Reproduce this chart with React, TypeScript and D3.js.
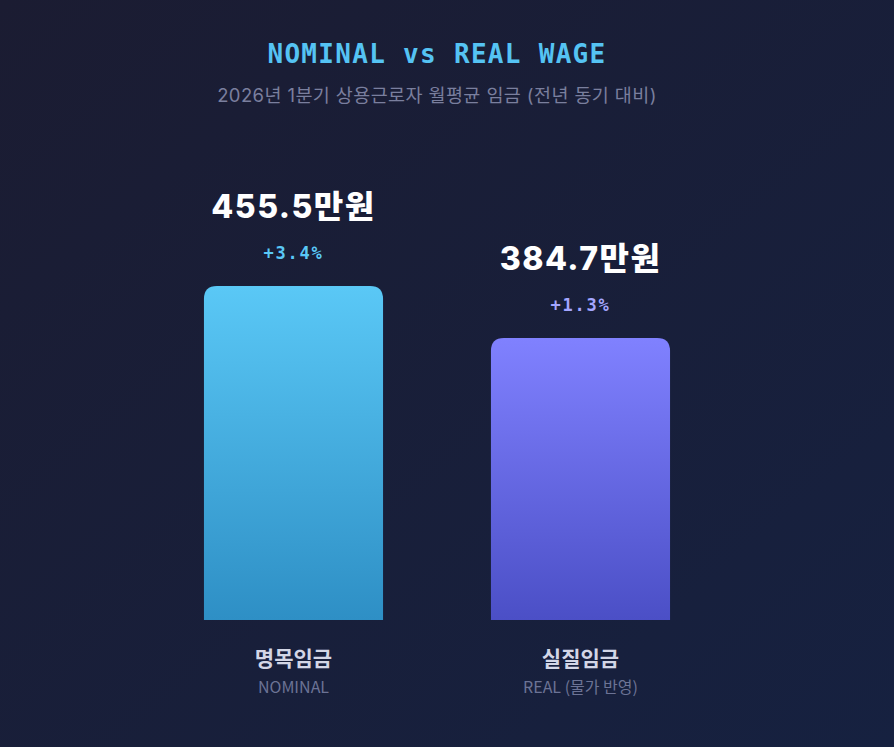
import * as d3 from 'd3'

const W = 894
const H = 747

const categories = ['명목임금', '실질임금']
const subLabels = ['NOMINAL', 'REAL (물가 반영)']
const values = [455.5, 384.7]
const changes = ['+3.4%', '+1.3%']
const topColors = ['#5ac8f6', '#8081ff']
const bottomColors = ['#2e8fc5', '#4b4fc6']
const changeColors = ['#5ac8f6', '#a4a6ff']

const CJK = '"Noto Sans CJK KR", "Noto Sans", sans-serif'
const LATIN = 'Inter, "Noto Sans CJK KR", sans-serif'
const MONO = '"DejaVu Sans Mono", monospace'

function topRounded(x: number, y: number, w: number, h: number, r: number) {
  return `M${x},${y + h}V${y + r}Q${x},${y} ${x + r},${y}H${x + w - r}Q${x + w},${y} ${x + w},${y + r}V${y + h}Z`
}

export default function App() {
  const x = d3.scaleBand<string>().domain(categories).range([150, 724])
    .paddingInner(0.376).paddingOuter(0.188)
  const y = d3.scaleLinear().domain([0, 455.5]).range([620, 286])
  const bw = x.bandwidth()

  return (
    <svg width={W} height={H} viewBox={`0 0 ${W} ${H}`}
      style={{ position: 'absolute', left: 0, top: 0, display: 'block' }}>
      <defs>
        <linearGradient id="bg" x1="0" y1="0" x2="1" y2="1">
          <stop offset="0%" stopColor="#1b1c32" />
          <stop offset="100%" stopColor="#162140" />
        </linearGradient>
        {categories.map((c, i) => (
          <linearGradient key={c} id={`bar${i}`} x1="0" y1="0" x2="0" y2="1">
            <stop offset="0%" stopColor={topColors[i]} />
            <stop offset="100%" stopColor={bottomColors[i]} />
          </linearGradient>
        ))}
      </defs>
      <rect width={W} height={H} fill="url(#bg)" />

      <text x={437} y={63} textAnchor="middle" fill="#55c3f3" fontFamily={MONO}
        fontWeight="bold" fontSize={26} letterSpacing={1.3}>NOMINAL vs REAL WAGE</text>
      <text x={437} y={102} textAnchor="middle" fill="#7a7f9e" fontFamily={LATIN}
        fontSize={18.5} letterSpacing={0.4}>2026년 1분기 상용근로자 월평균 임금 (전년 동기 대비)</text>

      {categories.map((c, i) => {
        const bx = x(c) ?? 0
        const cx = bx + bw / 2
        const top = y(values[i])
        return (
          <g key={c}>
            <path d={topRounded(bx, top, bw, y(0) - top, 13)} fill={`url(#bar${i})`} />
            <text x={cx} y={top - 68} textAnchor="middle" fill="#ffffff" fontFamily={LATIN}
              fontWeight={800} fontSize={32} letterSpacing={1.5}>{values[i].toFixed(1)}만원</text>
            <text x={cx} y={top - 27} textAnchor="middle" fill={changeColors[i]} fontFamily={MONO}
              fontWeight="bold" fontSize={17} letterSpacing={1.8}>{changes[i]}</text>
            <text x={cx} y={y(0) + 46} textAnchor="middle" fill="#d3d6e6" fontFamily={CJK}
              fontWeight="bold" fontSize={21}>{c}</text>
            <text x={cx} y={y(0) + 73} textAnchor="middle" fill="#6c7395" fontFamily={CJK}
              fontSize={16}>{subLabels[i]}</text>
          </g>
        )
      })}
    </svg>
  )
}
